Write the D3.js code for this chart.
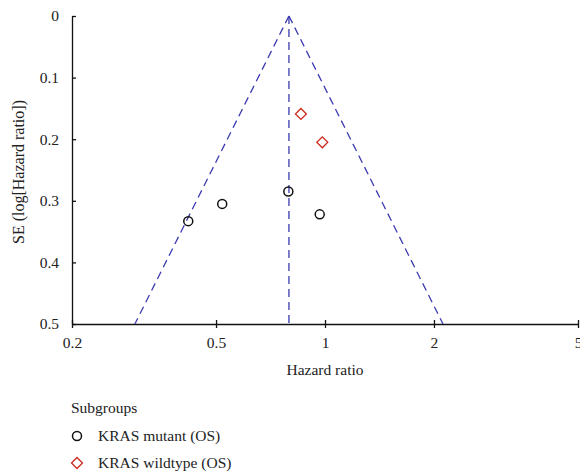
<!DOCTYPE html>
<html><head><meta charset="utf-8">
<script src="https://cdn.jsdelivr.net/npm/d3@7"></script>
<style>body{margin:0;background:#fff}svg{display:block}</style>
</head><body><svg id="c" width="580" height="476" font-family="Liberation Serif"></svg>
<script>
const xTicks = [0.2, 0.5, 1, 2, 5];
const yTicks = [0, 0.1, 0.2, 0.3, 0.4, 0.5];
const pooledHR = 0.795;
const mutantHR = [0.792, 0.520, 0.419, 0.967];
const mutantSE = [0.285, 0.305, 0.333, 0.322];
const wildHR = [0.858, 0.983];
const wildSE = [0.159, 0.205];
const legendLabels = ["KRAS mutant (OS)", "KRAS wildtype (OS)"];

const FS = 15.5, FONT = "Liberation Serif", TXT = "#222";
const svg = d3.select("#c");
const x = d3.scaleLog().domain([0.2, 5]).range([72, 578]);
const y = d3.scaleLinear().domain([0, 0.5]).range([16, 324]);

// axes
const gx = svg.append("g").attr("transform", `translate(0,${y(0.5)})`)
  .call(d3.axisBottom(x).tickValues(xTicks).tickFormat(d3.format("")).tickSizeInner(4).tickSizeOuter(0));
gx.selectAll(".tick line").attr("y1", -4);
const gy = svg.append("g").attr("transform", `translate(${x(0.2)},0)`)
  .call(d3.axisLeft(y).tickValues(yTicks).tickFormat(d => d === 0 ? "0" : d3.format(".1f")(d)).tickSizeInner(4).tickSizeOuter(0));
gy.selectAll(".tick line").attr("x2", 4);
[gx, gy].forEach(g => {
  g.attr("font-family", FONT).attr("font-size", FS);
  g.select(".domain").attr("stroke", "#111").attr("stroke-width", 1.3);
  g.selectAll(".tick line").attr("stroke", "#111").attr("stroke-width", 1.3);
  g.selectAll("text").attr("fill", TXT);
});
gx.selectAll("text").attr("dy", "0.71em").attr("y", 13);
gy.selectAll("text").attr("x", -13);

// funnel
const z = 1.96;
const lo = s => Math.exp(Math.log(pooledHR) - z * s);
const hi = s => Math.exp(Math.log(pooledHR) + z * s);
const dash = "8,5", blue = "#3b3bb0";
svg.append("line").attr("x1", x(pooledHR)).attr("x2", x(pooledHR)).attr("y1", y(0)).attr("y2", y(0.5))
  .attr("stroke", blue).attr("stroke-width", 1.3).attr("stroke-dasharray", dash);
svg.append("line").attr("x1", x(pooledHR)).attr("y1", y(0)).attr("x2", x(lo(0.5))).attr("y2", y(0.5))
  .attr("stroke", blue).attr("stroke-width", 1.3).attr("stroke-dasharray", dash);
svg.append("line").attr("x1", x(pooledHR)).attr("y1", y(0)).attr("x2", x(hi(0.5))).attr("y2", y(0.5))
  .attr("stroke", blue).attr("stroke-width", 1.3).attr("stroke-dasharray", dash);

// points
const diam = d3.symbol().type(d3.symbolSquare).size(60);
mutantHR.forEach((h, i) => {
  svg.append("circle").attr("cx", x(h)).attr("cy", y(mutantSE[i])).attr("r", 4.5)
    .attr("fill", "none").attr("stroke", "#111").attr("stroke-width", 1.5);
});
wildHR.forEach((h, i) => {
  svg.append("path").attr("d", diam()).attr("transform", `translate(${x(h)},${y(wildSE[i])}) rotate(45)`)
    .attr("fill", "none").attr("stroke", "#cc2a1f").attr("stroke-width", 1.3);
});

// labels
svg.append("text").attr("x", x(1)).attr("y", 375).attr("text-anchor", "middle")
  .attr("font-size", FS).attr("fill", TXT).text("Hazard ratio");
svg.append("text").attr("transform", "translate(20,172) rotate(-90)").attr("text-anchor", "middle")
  .attr("dominant-baseline", "middle").attr("font-size", 16).attr("fill", TXT).text("SE (log[Hazard ratio])");

// legend
svg.append("text").attr("x", 71).attr("y", 413).attr("font-size", FS).attr("fill", TXT).text("Subgroups");
svg.append("circle").attr("cx", 77).attr("cy", 436).attr("r", 4.5).attr("fill", "none").attr("stroke", "#111").attr("stroke-width", 1.5);
svg.append("path").attr("d", diam()).attr("transform", "translate(77,463) rotate(45)")
  .attr("fill", "none").attr("stroke", "#cc2a1f").attr("stroke-width", 1.3);
legendLabels.forEach((l, i) => {
  svg.append("text").attr("x", 98).attr("y", 441 + i * 27).attr("font-size", FS).attr("fill", TXT).text(l);
});
</script></body></html>
